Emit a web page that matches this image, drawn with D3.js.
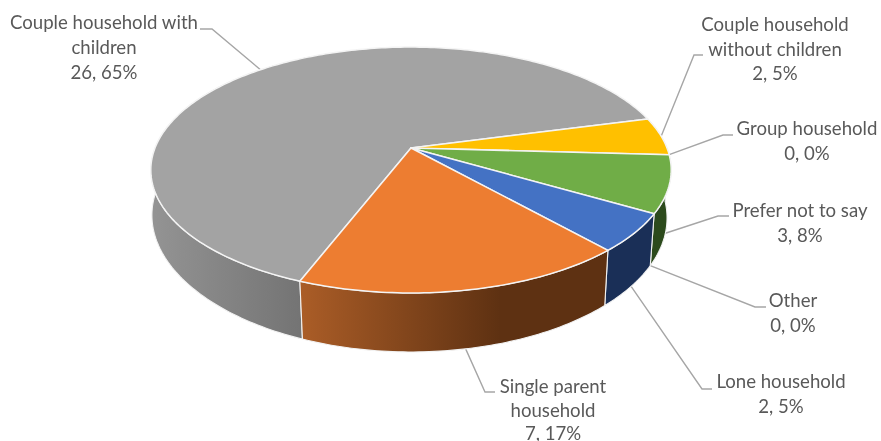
<!DOCTYPE html>
<html><head><meta charset="utf-8">
<script src="https://cdn.jsdelivr.net/npm/d3@7/dist/d3.min.js"></script>
<style>html,body{margin:0;padding:0;background:#fff;overflow:hidden}svg{display:block;filter:blur(.45px)}</style>
</head><body><svg id="c" width="881" height="441"></svg>
<script>
// ---- data ----
const categories = ["Couple household with children","Couple household without children","Group household","Prefer not to say","Other","Lone household","Single parent household"];
const values = [26,2,0,3,0,2,7];
const percents = [65,5,0,8,0,5,17];
const labelLines = [["Couple household with","children"],["Couple household","without children"],["Group household"],["Prefer not to say"],["Other"],["Lone household"],["Single parent","household"]];
const topColors = ["#a3a3a3","#ffc000","#a9d18e","#70ad47","#264478","#4472c4","#ed7d31"];
const wallColors = [["#949494","#747474"],["#7f6000","#7f6000"],["#2c4a1c","#2c4a1c"],["#2c4a1c","#2c4a1c"],["#1a2f57","#1a2f57"],["#1a2f57","#1a2f57"],["#ab5d27","#5e3112"]];
const wallGradX = [[150,300],[640,680],[640,680],[640,680],[600,660],[600,660],[300,500]];
// label layout: centre x, first baseline, line step, leader elbow (x of text end, x of elbow, y)
const labelX = [104,775,807,800,793,781,553];
const labelY = [29,31,135,217,307,388,393];
const labelStep = [25,24.5,24.5,24.5,24.5,24.5,23.5];
const elbows = [[200,212,29],[703,694,55],[733,723,135],[729,718,216],[766,755,307],[712,702,389],[495,485,392]];
const anchorOnLowerRim = [false,false,false,true,true,true,true];

// ---- projection ----
const deg = Math.PI/180;
const apex = {x:411,y:148}, k=.179, A=256, B=119;
const depthBottomY=352, topBottomY=293, sy=1.09;
function rim(a){
  const X=Math.sin(a), Y=-Math.cos(a), w=1-k*Y;
  return [apex.x+A*X/w, apex.y+B*Y/w];
}
function low(p){
  const s=p[0]>apex.x ? .984 : .995-(p[1]-173)/120*.02;
  return [apex.x+(p[0]-apex.x)*s, depthBottomY+(p[1]-topBottomY)*sy];
}
const startA=201.2*deg;
const arcs=d3.pie().sort(null).startAngle(startA).endAngle(startA+2*Math.PI)(values);
const line=d3.line();
const svg=d3.select("#c");
const defs=svg.append("defs");

// leaders
const leader=svg.append("g").attr("fill","none").attr("stroke","#a6a6a6").attr("stroke-width",1.4);
arcs.forEach((d,i)=>{
  const mid=(d.startAngle+d.endAngle)/2;
  const p=anchorOnLowerRim[i]?low(rim(mid)):rim(mid);
  const e=elbows[i];
  leader.append("path").attr("d",line([[e[0],e[2]],[e[1],e[2]],p]));
});

// walls
const sample=(a0,a1)=>{const n=Math.max(2,Math.ceil((a1-a0)/(1*deg)));return d3.range(n+1).map(j=>a0+(a1-a0)*j/n);};
const wallMin=75*deg, wallMax=315*deg;
const walls=svg.append("g");
arcs.forEach((d,i)=>{
  [0,2*Math.PI].forEach(off=>{
    const a0=Math.max(d.startAngle-off,wallMin), a1=Math.min(d.endAngle-off,wallMax);
    if(a1<=a0) return;
    const id="wg"+i;
    if(defs.select("#"+id).empty()){
      const g=defs.append("linearGradient").attr("id",id).attr("gradientUnits","userSpaceOnUse")
        .attr("x1",wallGradX[i][0]).attr("x2",wallGradX[i][1]).attr("y1",0).attr("y2",0);
      g.append("stop").attr("offset",0).attr("stop-color",wallColors[i][0]);
      g.append("stop").attr("offset",1).attr("stop-color",wallColors[i][1]);
    }
    const topPts=sample(a0,a1).map(rim);
    const lowPts=topPts.map(low).reverse();
    walls.append("path").attr("d",line(topPts.concat(lowPts))+"Z")
      .attr("fill",`url(#${id})`).attr("stroke","#f2f2f2").attr("stroke-width",1.1);
  });
});

// top faces
const tops=svg.append("g");
arcs.forEach((d,i)=>{
  if(d.endAngle<=d.startAngle) return;
  const pts=[[apex.x,apex.y]].concat(sample(d.startAngle,d.endAngle).map(rim));
  tops.append("path").attr("d",line(pts)+"Z").attr("fill",topColors[i])
    .attr("stroke","#f4f4f4").attr("stroke-width",1.5).attr("stroke-linejoin","round");
});

// labels
const labels=svg.append("g").attr("font-family","Lato, 'Noto Sans', sans-serif").attr("font-size",18.6)
  .attr("fill","#595959").attr("text-anchor","middle");
categories.forEach((c,i)=>{
  const t=labels.append("text").attr("data-category",c);
  labelLines[i].concat([`${values[i]}, ${percents[i]}%`]).forEach((s,j)=>{
    t.append("tspan").attr("x",labelX[i]).attr("y",labelY[i]+j*labelStep[i]).text(s);
  });
});
</script></body></html>
